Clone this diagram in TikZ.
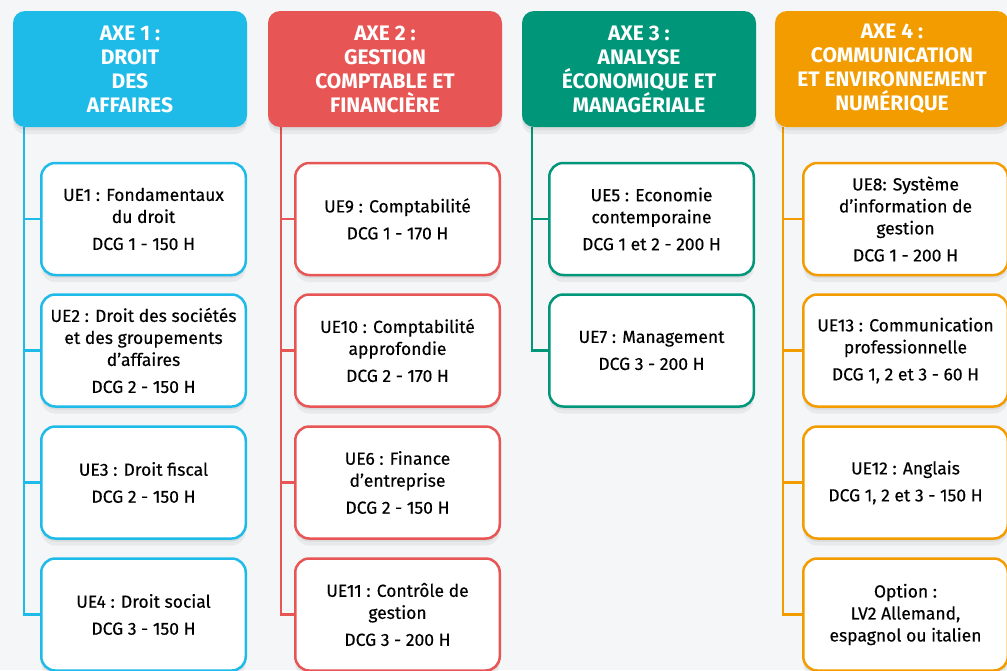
\documentclass[tikz,border=0pt]{standalone}
\usepackage{fontspec}
\setmainfont{Fira Sans}
\newfontfamily\medfont[FakeBold=0.35]{Fira Sans}
\definecolor{bg}{HTML}{F5F6F8}
\definecolor{cA}{HTML}{1FBBE8}
\definecolor{cB}{HTML}{E85555}
\definecolor{cC}{HTML}{009679}
\definecolor{cD}{HTML}{F39C00}
\begin{document}
\begin{tikzpicture}[x=1pt,y=-1pt,
  sh/.style={preaction={fill=black,opacity=.05,transform canvas={yshift=-7pt}},
             preaction={fill=black,opacity=.06,transform canvas={yshift=-3pt}}},
  axe/.style={sh,rounded corners=12pt,minimum width=234pt,minimum height=116pt,text=white,
    font=\bfseries\fontsize{21}{24}\selectfont,align=center,inner sep=0pt},
  ue/.style={sh,draw,line width=2.5pt,fill=white,rounded corners=14pt,minimum width=204.5pt,
    minimum height=112pt,align=center,inner sep=0pt,font=\medfont\fontsize{17.5}{22}\selectfont},
  conn/.style={line width=2.5pt}]
\fill[bg] (0,0) rectangle (1007,670);
\useasboundingbox (0,0) rectangle (1007,670);

% Column 1
\coordinate (t1) at (24,127);
\node[ue,draw=cA] (u1) at (143.5,219) {UE1 : Fondamentaux\\du droit\\[5pt]DCG 1 - 150 H};
\node[ue,draw=cA] (u2) at (143.5,350.5) {UE2 : Droit des sociétés\\et des groupements\\d’affaires\\[5pt]DCG 2 - 150 H};
\node[ue,draw=cA] (u3) at (143.5,482.5) {UE3 : Droit fiscal\\[5pt]DCG 2 - 150 H};
\node[ue,draw=cA] (u4) at (143.5,614.5) {UE4 : Droit social\\[5pt]DCG 3 - 150 H};
\draw[conn,cA] (t1) |- (u4.west);
\foreach \n in {u1,u2,u3} \draw[conn,cA] (t1 |- \n.west) -- (\n.west);
\node[axe,fill=cA] (a1) at (130,69) {AXE 1 :\\DROIT\\DES\\AFFAIRES};

% Column 2
\coordinate (t2) at (281,127);
\node[ue,draw=cB] (u9) at (397.5,219) {UE9 : Comptabilité\\[5pt]DCG 1 - 170 H};
\node[ue,draw=cB] (u10) at (397.5,350.5) {UE10 : Comptabilité\\approfondie\\[5pt]DCG 2 - 170 H};
\node[ue,draw=cB] (u6) at (397.5,482.5) {UE6 : Finance\\d’entreprise\\[5pt]DCG 2 - 150 H};
\node[ue,draw=cB] (u11) at (397.5,614.5) {UE11 : Contrôle de\\gestion\\[5pt]DCG 3 - 200 H};
\draw[conn,cB] (t2) |- (u11.west);
\foreach \n in {u9,u10,u6} \draw[conn,cB] (t2 |- \n.west) -- (\n.west);
\node[axe,fill=cB] (a2) at (385,69) {AXE 2 :\\GESTION\\COMPTABLE ET\\FINANCIÈRE};

% Column 3
\coordinate (t3) at (532,127);
\node[ue,draw=cC] (u5) at (651.5,219) {UE5 : Economie\\contemporaine\\[5pt]DCG 1 et 2 - 200 H};
\node[ue,draw=cC] (u7) at (651.5,350.5) {UE7 : Management\\[5pt]DCG 3 - 200 H};
\draw[conn,cC] (t3) |- (u7.west);
\draw[conn,cC] (t3 |- u5.west) -- (u5.west);
\node[axe,fill=cC] (a3) at (639,69) {AXE 3 :\\ANALYSE\\ÉCONOMIQUE ET\\MANAGÉRIALE};

% Column 4
\coordinate (t4) at (783,127);
\node[ue,draw=cD] (u8) at (905.5,219) {UE8: Système\\d’information de\\gestion\\[5pt]DCG 1 - 200 H};
\node[ue,draw=cD] (u13) at (905.5,350.5) {UE13 : Communication\\professionnelle\\[5pt]DCG 1, 2 et 3 - 60 H};
\node[ue,draw=cD] (u12) at (905.5,482.5) {UE12 : Anglais\\[5pt]DCG 1, 2 et 3 - 150 H};
\node[ue,draw=cD] (uo) at (905.5,614.5) {Option :\\LV2 Allemand,\\espagnol ou italien};
\draw[conn,cD] (t4) |- (uo.west);
\foreach \n in {u8,u13,u12} \draw[conn,cD] (t4 |- \n.west) -- (\n.west);
\node[axe,fill=cD] (a4) at (892,69) {AXE 4 :\\COMMUNICATION\\ET ENVIRONNEMENT\\NUMÉRIQUE};
\end{tikzpicture}
\end{document}
